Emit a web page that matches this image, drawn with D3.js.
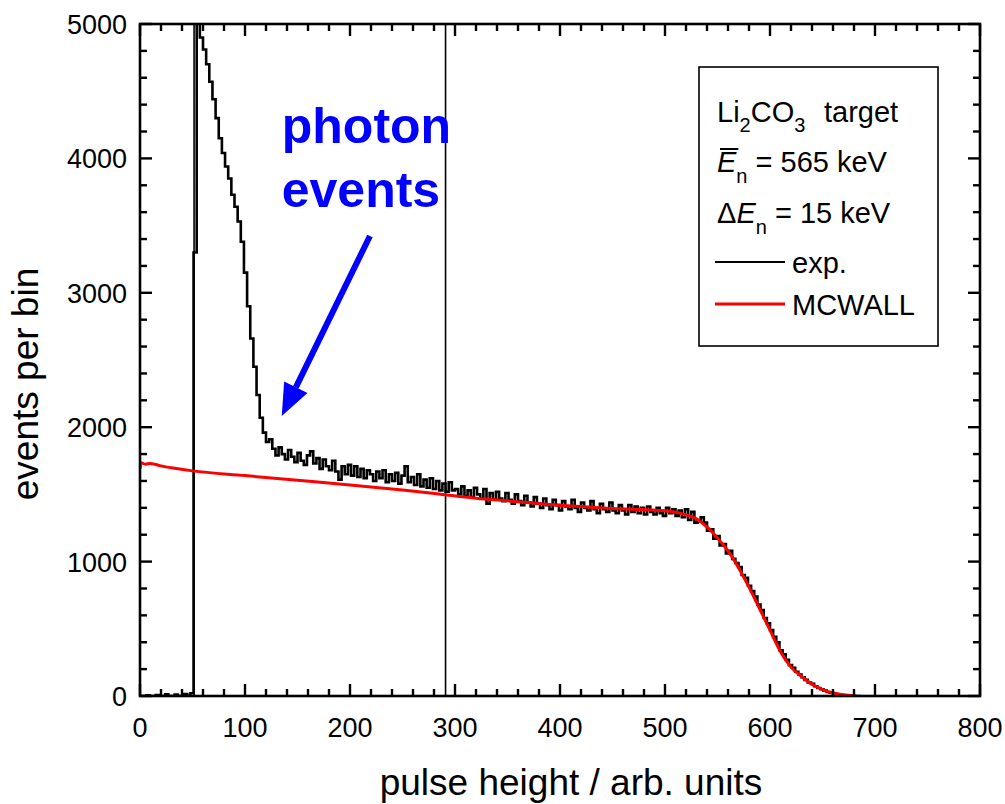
<!DOCTYPE html>
<html>
<head>
<meta charset="utf-8">
<script src="https://cdn.jsdelivr.net/npm/d3@7"></script>
<style>
  html, body { margin: 0; padding: 0; background: #fff; }
  svg { display: block; font-family: "Liberation Sans", Arial, sans-serif; }
</style>
</head>
<body>
<svg id="chart" width="1005" height="804"></svg>
<script>
// Measured pulse-height spectrum: bins of 3 units starting at 0 (counts per bin)
const expBinStart = 0;
const expBinWidth = 3;
const expCounts = [
  // 0 - 48
  0, 0, 5, 0, 0, 8, 0, 0, 12, 0, 0, 10, 0, 0, 15, 0, 20,
  // 51 - 78
  3300, 5600, 4900, 4810, 4700, 4570, 4440, 4300, 4150, 4040,
  // 81 - 108
  3940, 3850, 3730, 3640, 3530, 3380, 3150, 2900, 2660, 2450,
  // 111 - 138
  2240, 2070, 1960, 1890, 1910, 1840, 1790, 1850, 1800, 1760,
  // 141 - 168
  1830, 1780, 1740, 1810, 1750, 1720, 1790, 1820, 1730, 1770,
  // 171 - 198
  1690, 1760, 1710, 1680, 1750, 1670, 1610, 1710, 1650, 1720,
  // 201 - 228
  1640, 1710, 1630, 1690, 1620, 1680, 1650, 1600, 1670, 1620,
  // 231 - 258
  1680, 1590, 1650, 1600, 1660, 1580, 1640, 1710, 1590, 1630,
  // 261 - 288
  1570, 1650, 1560, 1610, 1550, 1620, 1540, 1600, 1530, 1580,
  // 291 - 297
  1520, 1590, 1530,
  // 300 - 534
  1540, 1500, 1560, 1490, 1530, 1480, 1550, 1500, 1470, 1540,
  1430, 1510, 1460, 1520, 1470, 1450, 1510, 1460, 1430, 1500,
  1450, 1420, 1490, 1440, 1410, 1480, 1430, 1400, 1470, 1420,
  1390, 1460, 1420, 1380, 1450, 1410, 1390, 1460, 1400, 1370,
  1440, 1400, 1380, 1450, 1390, 1360, 1430, 1390, 1370, 1440,
  1380, 1360, 1420, 1380, 1350, 1420, 1370, 1410, 1360, 1400,
  1350, 1410, 1370, 1350, 1400, 1360, 1340, 1400, 1360, 1390,
  1340, 1380, 1330, 1390, 1310, 1370, 1290, 1300, 1330,
  // 537 - 558
  1290, 1230, 1240, 1170, 1190, 1120, 1130, 1060,
  // 561 - 588
  1080, 1020, 990, 960, 900, 880, 820, 780, 740, 680,
  // 591 - 618
  640, 580, 540, 490, 440, 400, 340, 310, 270, 230,
  // 621 - 648
  210, 180, 160, 140, 120, 100, 90, 72, 60, 50,
  // 651 - 687
  40, 30, 24, 18, 13, 9, 6, 4, 2, 1, 0, 0, 0
];

// MCWALL simulation
const simX = [0, 1, 5, 10, 15, 20, 30, 50, 100, 150, 200, 250, 290, 320, 350,
  400, 450, 500, 510, 520, 530, 540, 550, 560, 570, 580, 590, 600, 610,
  620, 630, 640, 650, 660, 670, 680];
const simY = [1690, 1735, 1725, 1730, 1722, 1712, 1698, 1675, 1640, 1605, 1570,
  1532, 1498, 1472, 1452, 1420, 1396, 1378, 1368, 1348, 1318, 1258, 1175,
  1080, 955, 810, 650, 490, 330, 215, 145, 88, 48, 22, 9, 2];

// Vertical marker lines (pulse height)
const markers = [51.5, 291];

// Axis ticks
const xMajor = [0, 100, 200, 300, 400, 500, 600, 700, 800];
const yMajor = [0, 1000, 2000, 3000, 4000, 5000];
const xMinorStep = 20;
const yMinorStep = 200;

// Annotation
const annoText = ["photon", "events"];
const annoTextPos = [[135, 4115], [135, 3638]];
const arrowFrom = [219, 3423];
const arrowTo = [135, 2083];

// Legend
const legendSeries = ["exp.", "MCWALL"];
const legendColors = ["#000000", "#ff0000"];

const svg = d3.select("#chart");
const pLeft = 140, pRight = 980, pTop = 24, pBottom = 696;

const x = d3.scaleLinear().domain([0, 800]).range([pLeft, pRight]);
const y = d3.scaleLinear().domain([0, 5000]).range([pBottom, pTop]);

svg.append("defs").append("clipPath").attr("id", "plotclip")
  .append("rect").attr("x", pLeft).attr("y", pTop)
  .attr("width", pRight - pLeft).attr("height", pBottom - pTop);

const plot = svg.append("g").attr("clip-path", "url(#plotclip)");

// marker lines
plot.selectAll("line.marker").data(markers).join("line")
  .attr("class", "marker")
  .attr("x1", d => x(d)).attr("x2", d => x(d))
  .attr("y1", y(0)).attr("y2", y(5000))
  .attr("stroke", "#000").attr("stroke-width", 1.6);

// experimental histogram
const expPts = expCounts.map((c, i) => [expBinStart + i * expBinWidth, c]);
const expLine = d3.line().x(d => x(d[0])).y(d => y(d[1])).curve(d3.curveStepAfter);
plot.append("path").datum(expPts)
  .attr("d", expLine)
  .attr("fill", "none").attr("stroke", "#000").attr("stroke-width", 2.6)
  .attr("stroke-linejoin", "miter");

// simulation curve
const simPts = simX.map((v, i) => [v, simY[i]]);
const simLine = d3.line().x(d => x(d[0])).y(d => y(d[1])).curve(d3.curveMonotoneX);
plot.append("path").datum(simPts)
  .attr("d", simLine)
  .attr("fill", "none").attr("stroke", "#ff0000").attr("stroke-width", 3);

// frame
svg.append("rect").attr("x", pLeft).attr("y", pTop)
  .attr("width", pRight - pLeft).attr("height", pBottom - pTop)
  .attr("fill", "none").attr("stroke", "#000").attr("stroke-width", 2.6);

// inward ticks on all four sides
const majLen = 12, minLen = 7;
const xMinor = d3.range(0, 801, xMinorStep).filter(v => v % 100 !== 0);
const yMinor = d3.range(0, 5001, yMinorStep).filter(v => v % 1000 !== 0);
const tickG = svg.append("g").attr("stroke", "#000").attr("stroke-width", 2.4);
function xTicks(vals, len) {
  vals.forEach(v => {
    tickG.append("line").attr("x1", x(v)).attr("x2", x(v)).attr("y1", pBottom).attr("y2", pBottom - len);
    tickG.append("line").attr("x1", x(v)).attr("x2", x(v)).attr("y1", pTop).attr("y2", pTop + len);
  });
}
function yTicks(vals, len) {
  vals.forEach(v => {
    tickG.append("line").attr("y1", y(v)).attr("y2", y(v)).attr("x1", pLeft).attr("x2", pLeft + len);
    tickG.append("line").attr("y1", y(v)).attr("y2", y(v)).attr("x1", pRight).attr("x2", pRight - len);
  });
}
xTicks(xMajor, majLen); xTicks(xMinor, minLen);
yTicks(yMajor, majLen); yTicks(yMinor, minLen);

// tick labels
svg.append("g").selectAll("text").data(xMajor).join("text")
  .attr("x", d => x(d)).attr("y", 737)
  .attr("text-anchor", "middle").attr("font-size", 27).attr("fill", "#000")
  .text(d => d);
svg.append("g").selectAll("text").data(yMajor).join("text")
  .attr("x", 127).attr("y", d => y(d) + 10)
  .attr("text-anchor", "end").attr("font-size", 27).attr("fill", "#000")
  .text(d => d);

// axis titles
svg.append("text").attr("x", 571).attr("y", 795)
  .attr("text-anchor", "middle").attr("font-size", 37).text("pulse height / arb. units");
svg.append("text").attr("transform", "translate(38,384) rotate(-90)")
  .attr("text-anchor", "middle").attr("font-size", 37).text("events per bin");

// annotation
annoText.forEach((t, i) => {
  svg.append("text").attr("x", x(annoTextPos[i][0])).attr("y", y(annoTextPos[i][1]))
    .attr("font-size", 50).attr("font-weight", "bold").attr("fill", "#0000ff").text(t);
});
{
  const x0 = x(arrowFrom[0]), y0 = y(arrowFrom[1]);
  const x1 = x(arrowTo[0]), y1 = y(arrowTo[1]);
  const ang = Math.atan2(y1 - y0, x1 - x0);
  const headLen = 32, headHalf = 13;
  const bx = x1 - headLen * Math.cos(ang), by = y1 - headLen * Math.sin(ang);
  svg.append("line").attr("x1", x0).attr("y1", y0).attr("x2", bx).attr("y2", by)
    .attr("stroke", "#0000ff").attr("stroke-width", 6);
  const px = -Math.sin(ang), py = Math.cos(ang);
  svg.append("path")
    .attr("d", `M${x1},${y1}L${bx + headHalf * px},${by + headHalf * py}L${bx - headHalf * px},${by - headHalf * py}Z`)
    .attr("fill", "#0000ff");
}

// legend box
const lg = svg.append("g");
lg.append("rect").attr("x", 699).attr("y", 67).attr("width", 239).attr("height", 279)
  .attr("fill", "#fff").attr("stroke", "#000").attr("stroke-width", 1.6);
const fs = 29, subFs = 20;

const t1 = lg.append("text").attr("x", 717).attr("y", 122).attr("font-size", fs);
t1.append("tspan").text("Li");
t1.append("tspan").attr("font-size", subFs).attr("dy", 10).text("2");
t1.append("tspan").attr("dy", -10).text("CO");
t1.append("tspan").attr("font-size", subFs).attr("dy", 10).text("3");
t1.append("tspan").attr("dy", -10).attr("x", 824).text("target");

const t2 = lg.append("text").attr("x", 717).attr("y", 172).attr("font-size", fs);
t2.append("tspan").attr("font-style", "italic").text("E");
t2.append("tspan").attr("font-size", subFs).attr("dy", 11).text("n");
t2.append("tspan").attr("dy", -11).text(" = 565 keV");
{
  const r = t2.node().getExtentOfChar(0);
  lg.append("line").attr("x1", r.x + 3).attr("x2", r.x + r.width + 2)
    .attr("y1", 149).attr("y2", 149).attr("stroke", "#000").attr("stroke-width", 2);
}

const t3 = lg.append("text").attr("x", 717).attr("y", 223).attr("font-size", fs);
t3.append("tspan").text("\u0394");
t3.append("tspan").attr("font-style", "italic").text("E");
t3.append("tspan").attr("font-size", subFs).attr("dy", 11).text("n");
t3.append("tspan").attr("dy", -11).text(" = 15 keV");

legendSeries.forEach((name, i) => {
  const ly = [262, 304][i];
  lg.append("line").attr("x1", 715).attr("x2", 785).attr("y1", ly).attr("y2", ly)
    .attr("stroke", legendColors[i]).attr("stroke-width", i === 0 ? 2 : 3);
  lg.append("text").attr("x", 792).attr("y", [273, 315][i]).attr("font-size", fs).text(name);
});
</script>
</body>
</html>
